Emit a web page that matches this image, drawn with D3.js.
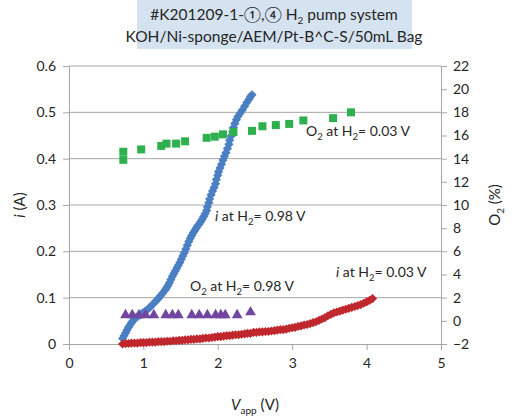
<!DOCTYPE html>
<html>
<head>
<meta charset="utf-8">
<script src="https://cdn.jsdelivr.net/npm/d3@7"></script>
<style>
  body { margin: 0; background: #fff; }
  svg text { font-family: Lato, "Noto Sans", sans-serif; fill: #262626; }
</style>
</head>
<body>
<svg id="chart" width="512" height="419"></svg>
<script>
// i at H2 = 0.98 V  -> [V, i(A)]
const currentH2098 = [
  [0.72,0.012],[0.74,0.018],[0.76,0.024],[0.78,0.030],[0.80,0.036],[0.82,0.041],
  [0.84,0.046],[0.86,0.050],[0.88,0.054],[0.90,0.057],[0.93,0.060],[0.96,0.063],
  [0.99,0.067],[1.02,0.070],[1.05,0.074],[1.08,0.078],[1.11,0.083],[1.14,0.088],
  [1.17,0.093],[1.20,0.098],[1.23,0.104],[1.26,0.110],[1.29,0.116],[1.31,0.121],
  [1.33,0.126],[1.35,0.132],[1.37,0.139],[1.39,0.146],[1.41,0.152],[1.43,0.158],
  [1.45,0.164],[1.47,0.170],[1.49,0.176],[1.51,0.183],[1.53,0.190],[1.55,0.197],
  [1.57,0.205],[1.59,0.213],[1.61,0.221],[1.63,0.228],[1.65,0.234],[1.67,0.240],
  [1.69,0.245],[1.71,0.250],[1.73,0.255],[1.75,0.259],[1.77,0.264],[1.79,0.269],
  [1.81,0.275],[1.83,0.281],[1.85,0.288],[1.86,0.296],[1.88,0.305],[1.89,0.313],
  [1.91,0.322],[1.93,0.330],[1.95,0.338],[1.97,0.346],[1.98,0.355],[2.00,0.364],
  [2.01,0.372],[2.03,0.380],[2.05,0.388],[2.07,0.397],[2.09,0.405],[2.11,0.413],
  [2.13,0.422],[2.15,0.431],[2.16,0.440],[2.18,0.449],[2.20,0.458],[2.21,0.467],
  [2.23,0.476],[2.25,0.484],[2.27,0.491],[2.30,0.498],[2.33,0.505],[2.36,0.513],
  [2.39,0.521],[2.42,0.528],[2.44,0.534],[2.46,0.538]
]

// i at H2 = 0.03 V -> [V, i(A)]
const currentH2003 = [
  [0.72,0.000],[0.76,0.001],[0.80,0.001],[0.84,0.002],[0.88,0.002],[0.92,0.002],
  [0.96,0.003],[1.00,0.003],[1.04,0.003],[1.08,0.004],[1.12,0.004],[1.16,0.004],
  [1.20,0.005],[1.24,0.005],[1.28,0.005],[1.32,0.006],[1.36,0.006],[1.40,0.007],
  [1.44,0.007],[1.48,0.008],[1.52,0.008],[1.56,0.009],[1.60,0.009],[1.64,0.010],
  [1.68,0.010],[1.72,0.011],[1.76,0.011],[1.80,0.012],[1.84,0.013],[1.88,0.013],
  [1.92,0.014],[1.96,0.015],[2.00,0.016],[2.04,0.016],[2.08,0.017],[2.12,0.018],
  [2.16,0.018],[2.20,0.019],[2.24,0.020],[2.28,0.020],[2.32,0.021],[2.36,0.022],
  [2.40,0.023],[2.44,0.023],[2.48,0.025],[2.52,0.025],[2.56,0.026],[2.60,0.026],
  [2.64,0.027],[2.68,0.027],[2.72,0.028],[2.76,0.029],[2.80,0.030],[2.84,0.031],
  [2.88,0.031],[2.92,0.032],[2.96,0.034],[3.00,0.035],[3.04,0.036],[3.08,0.038],
  [3.12,0.039],[3.16,0.041],[3.20,0.042],[3.24,0.044],[3.28,0.046],[3.32,0.048],
  [3.36,0.051],[3.40,0.054],[3.44,0.057],[3.48,0.061],[3.52,0.064],[3.56,0.067],
  [3.60,0.069],[3.64,0.071],[3.68,0.073],[3.72,0.075],[3.76,0.077],[3.80,0.079],
  [3.84,0.081],[3.88,0.083],[3.92,0.085],[3.96,0.088],[4.00,0.091],[4.04,0.094],
  [4.08,0.098]
]

// O2 at H2 = 0.03 V -> [V, O2 %]
const o2H2003 = [
  [0.73,13.9],[0.73,14.6],[0.97,14.8],[1.24,15.1],[1.31,15.3],[1.44,15.3],
  [1.56,15.5],[1.85,15.8],[1.96,15.9],[2.07,16.1],[2.21,16.3],[2.46,16.4],
  [2.60,16.8],[2.78,16.9],[2.96,17.0],[3.15,17.3],[3.55,17.5],[3.79,18.0]
]

// O2 at H2 = 0.98 V -> [V, O2 %]
const o2H2098 = [
  [0.76,0.5],[0.85,0.5],[0.94,0.5],[1.03,0.5],[1.14,0.5],[1.30,0.5],
  [1.39,0.5],[1.47,0.5],[1.65,0.5],[1.75,0.5],[1.86,0.5],[1.97,0.5],
  [2.04,0.5],[2.10,0.5],[2.26,0.5],[2.44,0.75]
]

const xTicks = [0, 1, 2, 3, 4, 5]
const yTicks = [0, 0.1, 0.2, 0.3, 0.4, 0.5, 0.6]
const y2Ticks = [-2, 0, 2, 4, 6, 8, 10, 12, 14, 16, 18, 20, 22]
const titleLines = ["#K201209-1-\u2460,\u2463 H\u2082 pump system", "KOH/Ni-sponge/AEM/Pt-B^C-S/50mL Bag"]

const svg = d3.select("#chart")
const plotLeft = 69, plotRight = 441, plotTop = 66, plotBottom = 344

const x = d3.scaleLinear().domain([0, 5]).range([plotLeft, plotRight])
const y = d3.scaleLinear().domain([0, 0.6]).range([plotBottom, plotTop])
const y2 = d3.scaleLinear().domain([-2, 22]).range([plotBottom, plotTop])

// title box
svg.append("rect")
    .attr("x", 137).attr("y", 0).attr("width", 275).attr("height", 49)
    .attr("fill", "#d5e2f0")
svg.append("text").attr("x", 274).attr("y", 20).attr("text-anchor", "middle")
    .attr("font-size", 15.5)
    .html('#K201209-1-\u2460,\u2463 H<tspan font-size="10" dy="4">2</tspan><tspan dy="-4"> pump system</tspan>')
svg.append("text").attr("x", 274).attr("y", 42).attr("text-anchor", "middle")
    .attr("font-size", 15.5).text(titleLines[1])

// gridlines
svg.append("g")
    .selectAll("line")
    .data(yTicks.slice(1))
    .join("line")
    .attr("x1", plotLeft).attr("x2", plotRight)
    .attr("y1", d => y(d)).attr("y2", d => y(d))
    .attr("stroke", "#a6a6a6")

const axisStyle = g => {
    g.select(".domain").attr("stroke", "#a6a6a6")
    g.selectAll(".tick line").attr("stroke", "#a6a6a6")
    g.selectAll(".tick text").attr("font-size", 14).attr("fill", "#404040")
        .attr("font-family", "Lato, 'Noto Sans', sans-serif")
}

svg.append("g")
    .attr("transform", `translate(0,${plotBottom})`)
    .call(d3.axisBottom(x).tickValues(xTicks).tickFormat(d3.format("d")).tickSize(6).tickSizeOuter(0).tickPadding(8))
    .call(axisStyle)

svg.append("g")
    .attr("transform", `translate(${plotLeft},0)`)
    .call(d3.axisLeft(y).tickValues(yTicks).tickFormat(d => d === 0 ? "0" : d3.format(".1f")(d)).tickSize(6).tickSizeOuter(0).tickPadding(7))
    .call(axisStyle)

svg.append("g")
    .attr("transform", `translate(${plotRight},0)`)
    .call(d3.axisRight(y2).tickValues(y2Ticks).tickFormat(d3.format("d")).tickSize(6).tickSizeOuter(0).tickPadding(6))
    .call(axisStyle)

// axis titles
svg.append("text")
    .attr("transform", "translate(25,205) rotate(-90)")
    .attr("text-anchor", "middle").attr("font-size", 15)
    .html('<tspan font-style="italic">i</tspan> (A)')
svg.append("text")
    .attr("transform", "translate(500,205) rotate(-90)")
    .attr("text-anchor", "middle").attr("font-size", 15)
    .html('O<tspan font-size="10" dy="4">2</tspan><tspan dy="-4"> (%)</tspan>')
svg.append("text")
    .attr("x", 255).attr("y", 410)
    .attr("text-anchor", "middle").attr("font-size", 15)
    .html('<tspan font-style="italic">V</tspan><tspan font-size="10" dy="4">app</tspan><tspan dy="-4"> (V)</tspan>')

// markers
const diamond = d3.symbol().type(d3.symbolSquare).size(42)
const square = d3.symbol().type(d3.symbolSquare).size(64)
const triangle = d3.symbol().type(d3.symbolTriangle).size(50)

svg.append("g").selectAll("path")
    .data(currentH2098).join("path")
    .attr("d", diamond)
    .attr("transform", d => `translate(${x(d[0])},${y(d[1])}) rotate(45)`)
    .attr("fill", "#4a7fc3")

svg.append("g").selectAll("path")
    .data(currentH2003).join("path")
    .attr("d", diamond)
    .attr("transform", d => `translate(${x(d[0])},${y(d[1])}) rotate(45)`)
    .attr("fill", "#c0272d")

svg.append("g").selectAll("path")
    .data(o2H2003).join("path")
    .attr("d", square)
    .attr("transform", d => `translate(${x(d[0])},${y2(d[1])})`)
    .attr("fill", "#2fb04e")

svg.append("g").selectAll("path")
    .data(o2H2098).join("path")
    .attr("d", triangle)
    .attr("transform", d => `translate(${x(d[0])},${y2(d[1])})`)
    .attr("fill", "#7046a0")

// series labels
const label = (lx, ly, html) => svg.append("text")
    .attr("x", lx).attr("y", ly).attr("font-size", 14).html(html)

label(306, 136, 'O<tspan font-size="9.5" dy="4">2</tspan><tspan dy="-4"> at H</tspan><tspan font-size="9.5" dy="4">2</tspan><tspan dy="-4">= 0.03 V</tspan>')
label(215, 221, '<tspan font-style="italic">i</tspan> at H<tspan font-size="9.5" dy="4">2</tspan><tspan dy="-4">= 0.98 V</tspan>')
label(190, 291, 'O<tspan font-size="9.5" dy="4">2</tspan><tspan dy="-4"> at H</tspan><tspan font-size="9.5" dy="4">2</tspan><tspan dy="-4">= 0.98 V</tspan>')
label(336, 277, '<tspan font-style="italic">i</tspan> at H<tspan font-size="9.5" dy="4">2</tspan><tspan dy="-4">= 0.03 V</tspan>')
</script>
</body>
</html>
